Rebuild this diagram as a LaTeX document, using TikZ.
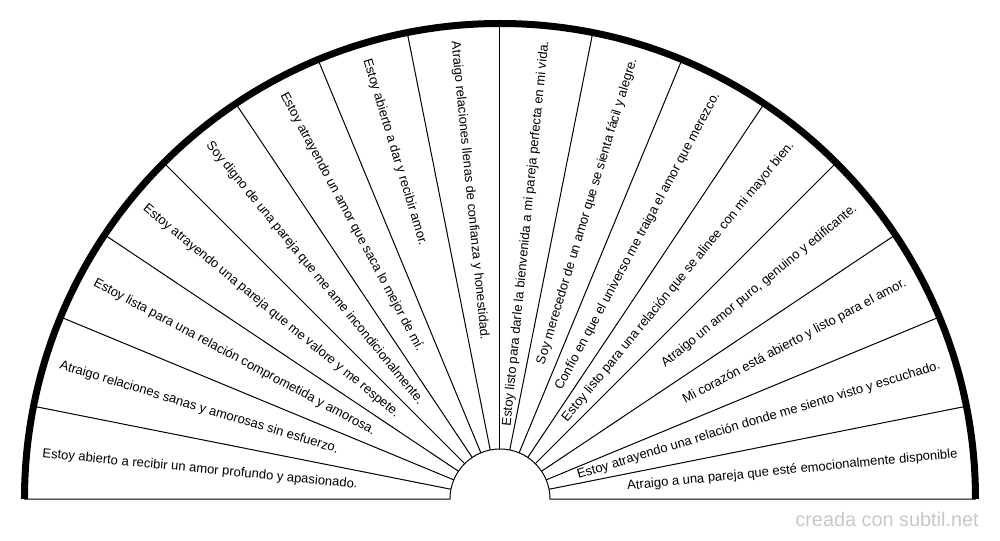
\documentclass[tikz,border=0pt]{standalone}
\usepackage{fontspec}
\setmainfont{Liberation Sans}
\usetikzlibrary{positioning}
\definecolor{markgray}{HTML}{C8C8C8}

\begin{document}
\begin{tikzpicture}[x=0.75pt,y=0.75pt,
    affirm/.style={font=\fontsize{9.75}{11}\selectfont, inner sep=0pt},
    spoke/.style={line width=0.75pt},
    rim/.style={line width=5.25pt}]
  \useasboundingbox (-500,-41) rectangle (500,499);
  \coordinate (fan-center) at (0,0);
  % spokes and hub
  \foreach \k in {1,...,15}
    \draw[spoke] (180-11.25*\k:50) -- (180-11.25*\k:475.5);
  \draw[spoke] (-475.5,0) -- (-50,0) arc (180:0:50) -- (475.5,0);
  \draw[rim] (475.5,0) arc (0:180:475.5);
  % affirmations, left to right
  \foreach \txt [count=\i] in {
      {Estoy abierto a recibir un amor profundo y apasionado.},
      {Atraigo relaciones sanas y amorosas sin esfuerzo.},
      {Estoy lista para una relación comprometida y amorosa.},
      {Estoy atrayendo una pareja que me valore y me respete.},
      {Soy digno de una pareja que me ame incondicionalmente.},
      {Estoy atrayendo un amor que saca lo mejor de mí.},
      {Estoy abierto a dar y recibir amor.},
      {Atraigo relaciones llenas de confianza y honestidad.},
      {Estoy listo para darle la bienvenida a mi pareja perfecta en mi vida.},
      {Soy merecedor de un amor que se sienta fácil y alegre.},
      {Confío en que el universo me traiga el amor que merezco.},
      {Estoy listo para una relación que se alinee con mi mayor bien.},
      {Atraigo un amor puro, genuino y edificante.},
      {Mi corazón está abierto y listo para el amor.},
      {Estoy atrayendo una relación donde me siento visto y escuchado.},
      {Atraigo a una pareja que esté emocionalmente disponible}} {
    \pgfmathsetmacro\ang{180-11.25*(\i-0.5)}
    \ifnum\i<9
      \pgfmathsetmacro\rot{\ang-180}
      \node[affirm, anchor=west, rotate=\rot] (aff-\i) at (\ang:460) {\txt};
    \else
      \node[affirm, anchor=east, rotate=\ang] (aff-\i) at (\ang:460) {\txt};
    \fi
  }
  \node[anchor=east, text=markgray, font=\fontsize{14.9}{16}\selectfont, inner sep=0pt] (credit) at (479,-20) {creada con subtil.net};
\end{tikzpicture}
\end{document}
